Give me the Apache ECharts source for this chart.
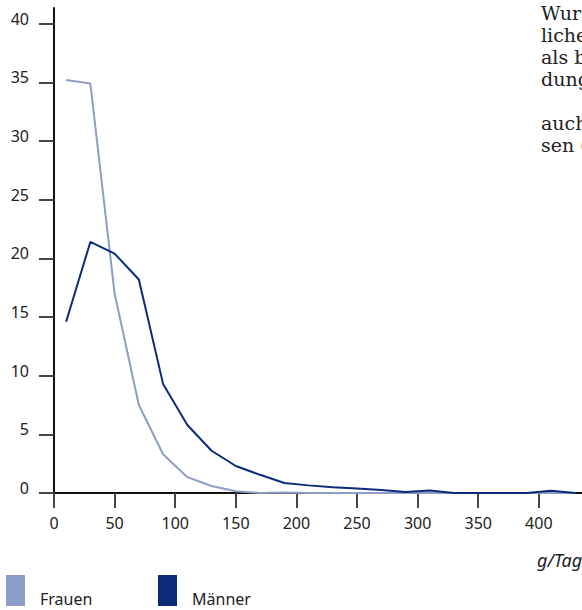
<!DOCTYPE html>
<html>
<head>
<meta charset="utf-8">
<script src="https://cdn.jsdelivr.net/npm/echarts@6/dist/echarts.min.js"></script>
<style>
html, body { margin: 0; padding: 0; background: #fff; }
#chart { width: 582px; height: 610px; }
</style>
</head>
<body>
<div id="chart"></div>
<script>
// Data (x in g/Tag, y in %)
const xValues = [10, 30, 50, 70, 90, 110, 130, 150, 170, 190, 210, 230, 250, 270, 290, 310, 330, 350, 370, 390, 410, 430];
const frauen  = [35.2, 34.9, 17.0, 7.5, 3.3, 1.35, 0.6, 0.15, 0.0, 0.05, 0.0, 0.0, 0.0, 0.0, 0.0, 0.0, 0.0, 0.0, 0.0, 0.0, 0.0, 0.0];
const maenner = [14.6, 21.4, 20.4, 18.2, 9.3, 5.8, 3.6, 2.3, 1.55, 0.85, 0.65, 0.5, 0.38, 0.25, 0.08, 0.22, 0.0, 0.0, 0.0, 0.0, 0.2, 0.0];
const seriesNames = ['Frauen', 'Männer'];
const xTicks = [0, 50, 100, 150, 200, 250, 300, 350, 400];
const yTicks = [0, 5, 10, 15, 20, 25, 30, 35, 40];
const unitLabel = 'g/Tag';
const sideText = ['Wur', 'liche', 'als b', 'dung', '', 'auch', 'sen ('];

const colors = ['#8c9ec4', '#0b2b78'];
const pairs = arr => xValues.map((x, i) => [x, arr[i]]);

const chart = echarts.init(document.getElementById('chart'), null, { renderer: 'svg' });
const labelFont = { fontFamily: 'Noto Sans', fontSize: 16, color: '#222' };
const legendBase = {
  top: 575, orient: 'horizontal', icon: 'rect', padding: 0,
  itemWidth: 19, itemHeight: 31, itemGap: 0, selectedMode: false,
  formatter: name => '{t|' + name + '}',
  textStyle: {
    fontFamily: 'Noto Sans', fontSize: 16, color: '#222',
    rich: { t: { fontFamily: 'Noto Sans', fontSize: 16, color: '#222', padding: [16, 0, 0, 10] } }
  }
};

chart.setOption({
  animation: false,
  backgroundColor: '#fff',
  grid: { left: 54, right: 0, top: 8, bottom: 117, containLabel: false },
  xAxis: {
    type: 'value', min: 0, max: 435.6,
    axisLine: { lineStyle: { color: '#111', width: 2 } },
    axisTick: { show: true, length: 15, customValues: xTicks, lineStyle: { color: '#444', width: 2 } },
    axisLabel: Object.assign({ margin: 22, customValues: xTicks }, labelFont),
    splitLine: { show: false }
  },
  yAxis: {
    type: 'value', min: 0, max: 41.34,
    axisLine: { show: true, lineStyle: { color: '#111', width: 2 } },
    axisTick: { show: true, length: 15, customValues: yTicks, lineStyle: { color: '#444', width: 2 } },
    axisLabel: Object.assign({
      margin: 25, customValues: yTicks,
      formatter: v => '{v|' + v + '}',
      rich: { v: { fontFamily: 'Noto Sans', fontSize: 16, color: '#222', padding: [0, 0, 10, 0] } }
    }, labelFont),
    splitLine: { show: false }
  },
  legend: [
    Object.assign({ left: 6, data: [seriesNames[0]] }, legendBase),
    Object.assign({ left: 158, data: [seriesNames[1]] }, legendBase)
  ],
  graphic: [
    { type: 'text', left: 537, top: 551, style: { text: unitLabel, font: 'italic 18px "Noto Sans"', fill: '#222' } },
    { type: 'text', left: 541, top: 2, style: { text: sideText.join('\n'), font: '19px "DejaVu Serif"', lineHeight: 22, fill: '#222' } }
  ],
  series: [
    { name: seriesNames[0], type: 'line', data: pairs(frauen), symbol: 'none', color: colors[0], lineStyle: { width: 2, color: colors[0] } },
    { name: seriesNames[1], type: 'line', data: pairs(maenner), symbol: 'none', color: colors[1], lineStyle: { width: 2, color: colors[1] } }
  ]
});
</script>
</body>
</html>
